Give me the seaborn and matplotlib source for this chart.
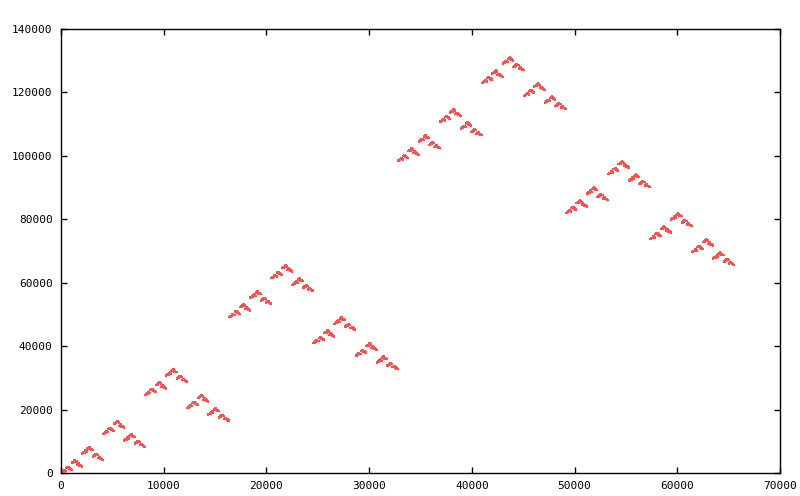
import numpy as np
import pandas as pd
import matplotlib
matplotlib.use("Agg")
import matplotlib.pyplot as plt
import seaborn as sns

# Dữ liệu: dãy a(n) = n XOR 2n với n = 0 .. 65535 (giá trị đỉnh 131070 tại n = 43690)
N_POINTS = 65536
n_values = np.arange(N_POINTS)
a_values = n_values ^ (n_values << 1)

x_ticks = [0, 10000, 20000, 30000, 40000, 50000, 60000, 70000]
y_ticks = [0, 20000, 40000, 60000, 80000, 100000, 120000, 140000]

df = pd.DataFrame({"n": n_values, "a": a_values})

sns.set_style("ticks")
plt.rcParams['font.family'] = ['DejaVu Sans Mono']

fig = plt.figure(figsize=(8, 4.96), dpi=100)
ax = fig.add_axes([61 / 800, 1 - 473 / 496, (780 - 61) / 800, (473 - 29) / 496])

# Mỗi điểm là một pixel (giống kiểu "dots" của gnuplot)
sns.scatterplot(data=df, x="n", y="a", ax=ax, marker="s", s=0.55,
                color="#ff5050", linewidth=0, legend=False, antialiased=False)

ax.set_xlim(0, 70000)
ax.set_ylim(0, 140000)
ax.set_xticks(x_ticks)
ax.set_yticks(y_ticks)
ax.set_xticklabels([str(t) for t in x_ticks])
ax.set_yticklabels([str(t) for t in y_ticks])
ax.set_xlabel("")
ax.set_ylabel("")

for side in ["top", "right", "bottom", "left"]:
    ax.spines[side].set_visible(True)
    ax.spines[side].set_linewidth(1.0)
    ax.spines[side].set_color("black")

ax.tick_params(direction="in", length=4, width=1, colors="black",
               top=True, right=True, labelsize=8, pad=6)

fig.savefig("out.png", dpi=100)
